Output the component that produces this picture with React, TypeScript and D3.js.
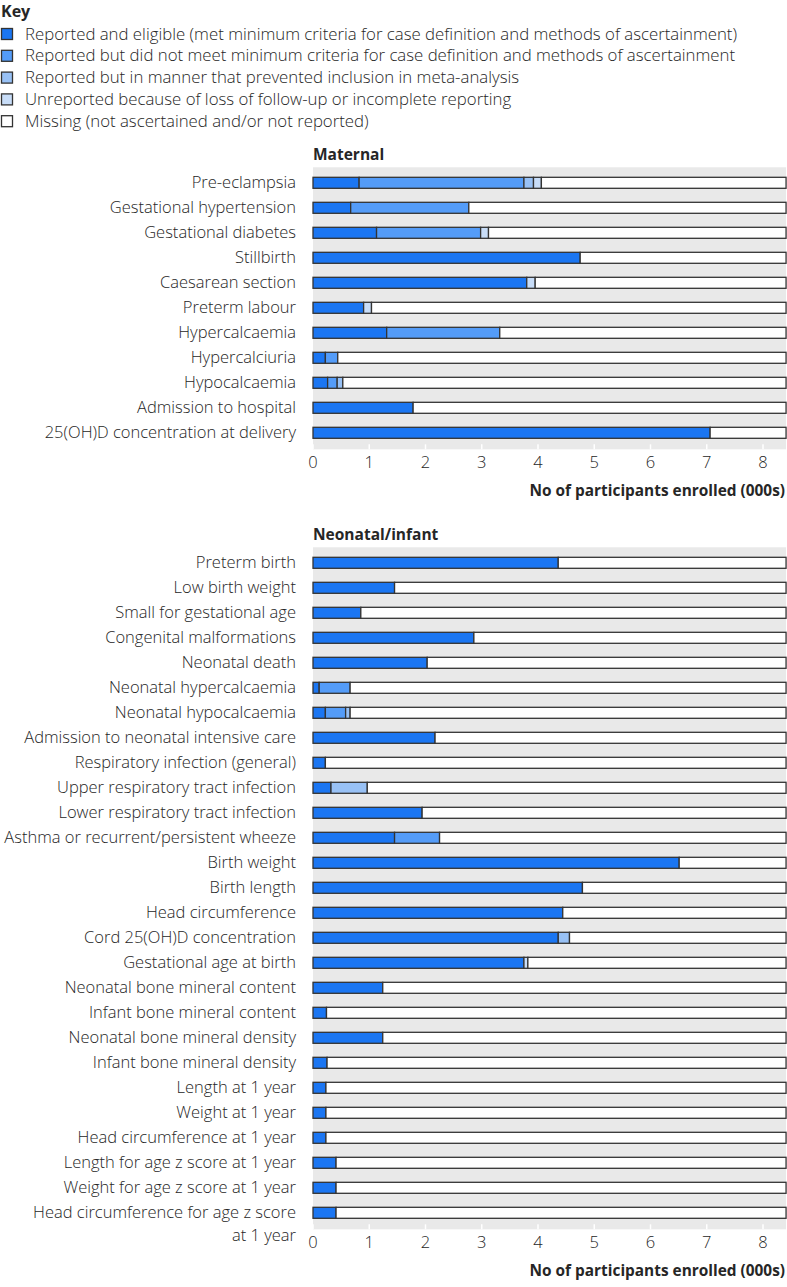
import React from 'react';
import * as d3 from 'd3';

// Categories (key)
const keyLabels = [
  'Reported and eligible (met minimum criteria for case definition and methods of ascertainment)',
  'Reported but did not meet minimum criteria for case definition and methods of ascertainment',
  'Reported but in manner that prevented inclusion in meta-analysis',
  'Unreported because of loss of follow-up or incomplete reporting',
  'Missing (not ascertained and/or not reported)',
];
const keyColors = ['#1b76f2', '#549cf8', '#98c1f5', '#c8ddf8', '#ffffff'];

// total enrolled participants (000s)
const TOTAL = 8.41;
const ticks = [0, 1, 2, 3, 4, 5, 6, 7, 8];

// Maternal outcomes
const maternalNames = [
  'Pre-eclampsia', 'Gestational hypertension', 'Gestational diabetes', 'Stillbirth',
  'Caesarean section', 'Preterm labour', 'Hypercalcaemia', 'Hypercalciuria',
  'Hypocalcaemia', 'Admission to hospital', '25(OH)D concentration at delivery',
];
const maternalEligible = [0.82, 0.67, 1.13, 4.75, 3.8, 0.9, 1.31, 0.22, 0.26, 1.78, 7.06];
const maternalNotMet = [2.93, 2.1, 1.85, 0, 0, 0, 2.01, 0.22, 0.17, 0, 0];
const maternalPrevented = [0.17, 0, 0, 0, 0, 0, 0, 0, 0.1, 0, 0];
const maternalUnreported = [0.14, 0, 0.14, 0, 0.15, 0.14, 0, 0, 0, 0, 0];

// Neonatal/infant outcomes
const neonatalNames = [
  'Preterm birth', 'Low birth weight', 'Small for gestational age', 'Congenital malformations',
  'Neonatal death', 'Neonatal hypercalcaemia', 'Neonatal hypocalcaemia',
  'Admission to neonatal intensive care', 'Respiratory infection (general)',
  'Upper respiratory tract infection', 'Lower respiratory tract infection',
  'Asthma or recurrent/persistent wheeze', 'Birth weight', 'Birth length', 'Head circumference',
  'Cord 25(OH)D concentration', 'Gestational age at birth', 'Neonatal bone mineral content',
  'Infant bone mineral content', 'Neonatal bone mineral density', 'Infant bone mineral density',
  'Length at 1 year', 'Weight at 1 year', 'Head circumference at 1 year',
  'Length for age z score at 1 year', 'Weight for age z score at 1 year',
  'Head circumference for age z score\nat 1 year',
];
const neonatalEligible = [
  4.36, 1.45, 0.85, 2.86, 2.03, 0.11, 0.22, 2.17, 0.22, 0.32, 1.94, 1.45, 6.51, 4.79, 4.44,
  4.36, 3.75, 1.24, 0.24, 1.24, 0.25, 0.23, 0.23, 0.23, 0.41, 0.41, 0.41,
];
const neonatalNotMet = [
  0, 0, 0, 0, 0, 0.55, 0.36, 0, 0, 0, 0, 0.8, 0, 0, 0,
  0, 0, 0, 0, 0, 0, 0, 0, 0, 0, 0, 0,
];
const neonatalPrevented = [
  0, 0, 0, 0, 0, 0, 0.08, 0, 0, 0.645, 0, 0, 0, 0, 0,
  0.2, 0, 0, 0, 0, 0, 0, 0, 0, 0, 0, 0,
];
const neonatalUnreported = [
  0, 0, 0, 0, 0, 0, 0, 0, 0, 0, 0, 0, 0, 0, 0,
  0, 0.07, 0, 0, 0, 0, 0, 0, 0, 0, 0, 0,
];

const FONT = '"Open Sans", Roboto, sans-serif';
const TEXT = '#262626';
const GREY = '#e9e9e9';
const STROKE = '#333';
const LABEL_SIZE = 16.5;

const x = d3.scaleLinear().domain([0, 8]).range([313, 763]);

interface PanelProps {
  title: string;
  names: string[];
  series: number[][];
  top: number;
}

function Panel({ title, names, series, top }: PanelProps) {
  const y = d3.scaleBand<string>().domain(names).range([top, top + names.length * 25]);
  const panelTop = top - 3;
  const panelBottom = top + names.length * 25 + 4;
  const barH = 11;
  const stackData = names.map((n, i) => {
    const vals = series.map((s) => s[i]);
    const used = d3.sum(vals);
    return [...vals, TOTAL - used];
  });
  return (
    <g>
      <text x={313} y={panelTop - 7} fontFamily={FONT} fontSize={15.5} fontWeight={700} fill={TEXT}>
        {title}
      </text>
      <rect x={x(0)} y={panelTop} width={x(TOTAL) - x(0)} height={panelBottom - panelTop} fill={GREY} />
      {ticks.map((t) => (
        <g key={t}>
          <line x1={x(t)} x2={x(t)} y1={panelBottom - 5} y2={panelBottom} stroke="#fff" strokeWidth={1.5} />
          <text
            x={x(t)}
            y={panelBottom + 19}
            textAnchor="middle"
            fontFamily={FONT}
            fontSize={16.5}
            fontWeight={300}
            fill={TEXT}
          >
            {t}
          </text>
        </g>
      ))}
      <text
        x={785}
        y={panelBottom + 47}
        textAnchor="end"
        fontFamily={FONT}
        fontSize={15.4}
        fontWeight={700}
        fill={TEXT}
      >
        No of participants enrolled (000s)
      </text>
      {names.map((n, i) => {
        const cy = (y(n) as number) + y.bandwidth() / 2;
        const lines = n.split('\n');
        let acc = 0;
        return (
          <g key={n}>
            {lines.map((l, j) => (
              <text
                key={j}
                x={296}
                y={cy + 5.5 + j * 22.5}
                textAnchor="end"
                fontFamily={FONT}
                fontSize={LABEL_SIZE}
                fontWeight={300}
                fill={TEXT}
              >
                {l}
              </text>
            ))}
            {stackData[i].map((v, k) => {
              const x0 = acc;
              acc += v;
              if (v <= 0) return null;
              return (
                <rect
                  key={k}
                  x={x(x0)}
                  y={cy - barH / 2}
                  width={x(x0 + v) - x(x0)}
                  height={barH}
                  fill={keyColors[k]}
                  stroke={STROKE}
                  strokeWidth={1.3}
                />
              );
            })}
          </g>
        );
      })}
    </g>
  );
}

export default function App() {
  return (
    <svg
      width={787}
      height={1287}
      style={{ position: 'absolute', left: 0, top: 0, background: '#fff' }}
    >
      <text x={1} y={17} fontFamily={FONT} fontSize={16} fontWeight={700} fill={TEXT}>
        Key
      </text>
      {keyLabels.map((l, i) => {
        const cy = 34 + i * 21.8;
        return (
          <g key={l}>
            <rect x={1.5} y={cy - 5.5} width={11} height={11} fill={keyColors[i]} stroke={STROKE} strokeWidth={1.3} />
            <text x={25} y={cy + 5.5} fontFamily={FONT} fontSize={16.8} fontWeight={300} fill={TEXT}>
              {l}
            </text>
          </g>
        );
      })}
      <Panel
        title="Maternal"
        names={maternalNames}
        series={[maternalEligible, maternalNotMet, maternalPrevented, maternalUnreported]}
        top={170.3}
      />
      <Panel
        title="Neonatal/infant"
        names={neonatalNames}
        series={[neonatalEligible, neonatalNotMet, neonatalPrevented, neonatalUnreported]}
        top={550.3}
      />
    </svg>
  );
}
